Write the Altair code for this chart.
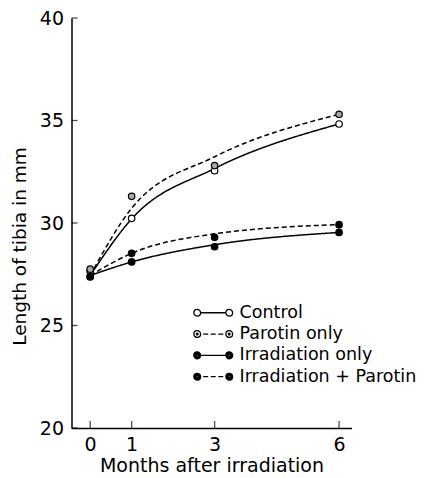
import altair as alt
import pandas as pd

# ---- data ----
months = [0, 1, 3, 6]
series_names = ["Control", "Parotin only", "Irradiation only", "Irradiation + Parotin"]

# observed points
control_pts = [27.66, 30.23, 32.55, 34.83]
parotin_pts = [27.75, 31.30, 32.80, 35.30]
irr_pts = [27.37, 28.10, 28.84, 29.54]
irrpar_pts = [27.40, 28.52, 29.30, 29.92]

# fitted (hand-drawn) curves
control_curve = [27.44, 30.20, 32.66, 34.83]
parotin_curve = [27.44, 30.72, 33.23, 35.30]
irr_curve = [27.44, 28.10, 28.94, 29.54]
irrpar_curve = [27.44, 28.52, 29.47, 29.92]

y_ticks = [20, 25, 30, 35, 40]
x_ticks = [0, 1, 3, 6]

FONT = "DejaVu Sans"
W, H = 280, 410

pts = []
for name, vals in zip(series_names, [control_pts, parotin_pts, irr_pts, irrpar_pts]):
    for m, v in zip(months, vals):
        pts.append({"month": m, "length": v, "series": name})
df_pts = pd.DataFrame(pts)

crv = []
for name, vals in zip(series_names, [control_curve, parotin_curve, irr_curve, irrpar_curve]):
    for m, v in zip(months, vals):
        crv.append({"month": m, "length": v, "series": name})
df_crv = pd.DataFrame(crv)

xscale = alt.Scale(domain=[-0.45, 6.3], nice=False, zero=False)
yscale = alt.Scale(domain=[20, 40], nice=False, zero=False)

x_axis = alt.Axis(values=x_ticks, title="Months after irradiation", grid=False,
                  tickSize=0, labelPadding=7, titlePadding=2,
                  labelFontSize=19, titleFontSize=19)
y_axis = alt.Axis(values=y_ticks, title="Length of tibia in mm", grid=False,
                  tickSize=0, labelPadding=8, titlePadding=10, titleY=228,
                  labelFontSize=19, titleFontSize=18.5)
x_enc = alt.X("month:Q", scale=xscale, axis=x_axis)
y_enc = alt.Y("length:Q", scale=yscale, axis=y_axis)

fill_scale = alt.Scale(domain=series_names, range=["white", "#a8a8a8", "black", "black"])

lines = alt.Chart(df_crv).mark_line(interpolate="monotone", color="black", strokeWidth=1.5).encode(
    x=x_enc, y=y_enc,
    strokeDash=alt.StrokeDash("series:N", scale=alt.Scale(domain=series_names,
                              range=[[1, 0], [5, 3], [1, 0], [5, 3]]), legend=None),
    detail="series:N",
)

points = alt.Chart(df_pts).mark_point(shape="circle", size=42, stroke="black", strokeWidth=1.2,
                                      opacity=1, fillOpacity=1).encode(
    x=x_enc, y=y_enc,
    fill=alt.Fill("series:N", scale=fill_scale, legend=None),
)


# legend glyphs: line sample with a circle at each end (drawn as symbol paths)
def circ(cx, r):
    return f"M{cx - r:.3f},0A{r},{r},0,1,0,{cx + r:.3f},0A{r},{r},0,1,0,{cx - r:.3f},0"


C, R = 3.56, 0.75
open_ends = circ(-C, R) + circ(C, R)
dot_ends = open_ends + circ(-C, 0.2) + circ(C, 0.2) + circ(-C, 0.05) + circ(C, 0.05)
full_ends = open_ends + "".join(circ(s * C, r) for s in (-1, 1) for r in (0.5, 0.25, 0.05))
solid_seg = f"M{-(C - R):.3f},0L{C - R:.3f},0"
dash_seg = "M-2.23,0L-1.13,0M-0.55,0L0.55,0M1.13,0L2.23,0"
legend_shapes = [open_ends + solid_seg, dot_ends + dash_seg,
                 full_ends + solid_seg, full_ends + dash_seg]

leg = alt.Legend(orient="none", legendX=133, legendY=286, title=None,
                 symbolSize=81, symbolStrokeWidth=1.3, symbolOpacity=1,
                 labelFontSize=17.5, labelFont=FONT, labelColor="black",
                 labelOffset=17.5, rowPadding=2.3, padding=0, labelLimit=400)

legend_layer = alt.Chart(df_pts).mark_point(size=81, stroke="black", strokeWidth=1.3,
                                            opacity=0).encode(
    x=x_enc, y=y_enc,
    shape=alt.Shape("series:N", sort=series_names, scale=alt.Scale(range=legend_shapes),
                    legend=leg),
)

ytick_df = pd.DataFrame({"length": y_ticks})
xtick_df = pd.DataFrame({"month": x_ticks})
yticks = alt.Chart(ytick_df).mark_tick(orient="horizontal", size=6, thickness=1.3, color="black").encode(
    y=y_enc, x=alt.value(3))
xticks = alt.Chart(xtick_df).mark_tick(orient="vertical", size=7, thickness=1.3, color="black").encode(
    x=x_enc, y=alt.value(H - 3.5))

chart = alt.layer(lines, points, legend_layer, yticks, xticks).properties(
    width=W, height=H, padding={"left": 1.5, "top": 1, "right": 0, "bottom": 0}
).configure(font=FONT).configure_view(stroke=None).configure_axis(
    domainColor="black", domainWidth=1.5, labelColor="black", titleColor="black",
    labelFont=FONT, titleFont=FONT, titleFontWeight="normal",
)

chart.save("out.html", embed_options={"renderer": "svg", "actions": False})
